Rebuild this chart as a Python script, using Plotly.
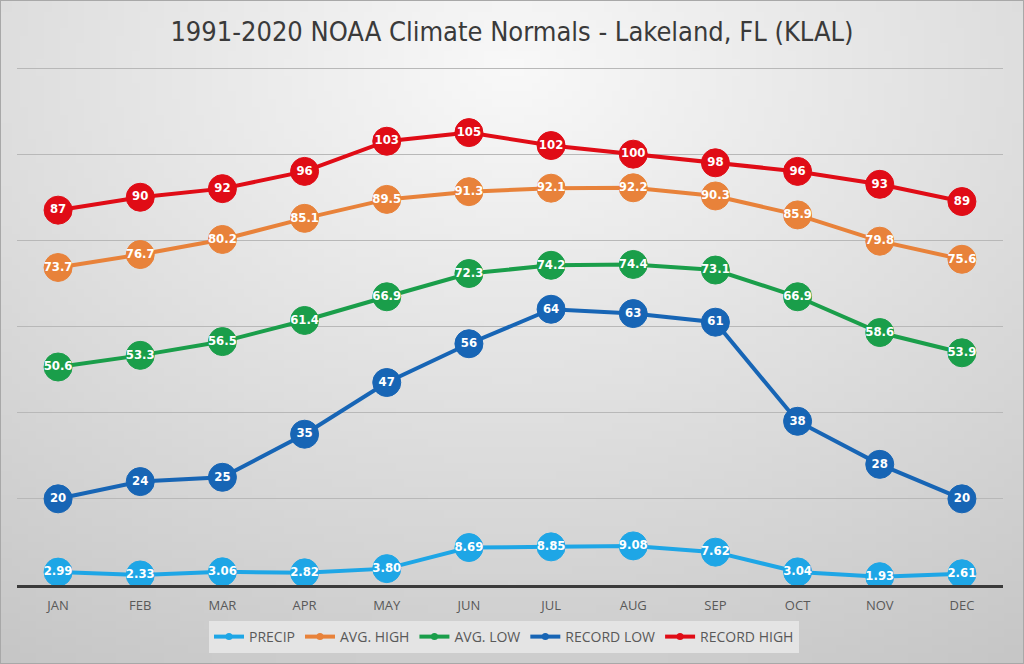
import base64
import struct
import zlib
import math
import plotly.graph_objects as go

months = ["JAN", "FEB", "MAR", "APR", "MAY", "JUN", "JUL", "AUG", "SEP", "OCT", "NOV", "DEC"]

precip = [2.99, 2.33, 3.06, 2.82, 3.80, 8.69, 8.85, 9.08, 7.62, 3.04, 1.93, 2.61]
avg_high = [73.7, 76.7, 80.2, 85.1, 89.5, 91.3, 92.1, 92.2, 90.3, 85.9, 79.8, 75.6]
avg_low = [50.6, 53.3, 56.5, 61.4, 66.9, 72.3, 74.2, 74.4, 73.1, 66.9, 58.6, 53.9]
record_low = [20, 24, 25, 35, 47, 56, 64, 63, 61, 38, 28, 20]
record_high = [87, 90, 92, 96, 103, 105, 102, 100, 98, 96, 93, 89]

series = [
    ("PRECIP", precip, "#1ea6e6", "%{y:.2f}"),
    ("AVG. HIGH", avg_high, "#e8823a", "%{y:.1f}"),
    ("AVG. LOW", avg_low, "#1a9e4a", "%{y:.1f}"),
    ("RECORD LOW", record_low, "#1765b5", "%{y:.0f}"),
    ("RECORD HIGH", record_high, "#e00c16", "%{y:.0f}"),
]

W, H = 1024, 664
PX_PER_UNIT = (585 - 68) / 120.0
Y_MAX = 121.0


def gradient_png(w, h):
    rows = []
    for j in range(h):
        v = j / (h - 1)
        row = bytearray([0])
        for i in range(w):
            u = i / (w - 1)
            d = math.sqrt(((u - 0.5) / 0.9) ** 2 + ((v - 0.1) / 1.0) ** 2)
            c = int(max(190, min(250, 249 - 48 * d)))
            row += bytes([c, c, c])
        rows.append(bytes(row))
    raw = b"".join(rows)

    def chunk(tag, data):
        c = struct.pack(">I", len(data)) + tag + data
        return c + struct.pack(">I", zlib.crc32(tag + data) & 0xFFFFFFFF)

    png = b"\x89PNG\r\n\x1a\n"
    png += chunk(b"IHDR", struct.pack(">IIBBBBB", w, h, 8, 2, 0, 0, 0))
    png += chunk(b"IDAT", zlib.compress(raw, 9))
    png += chunk(b"IEND", b"")
    return "data:image/png;base64," + base64.b64encode(png).decode()


fig = go.Figure()

for name, vals, color, fmt in series:
    fig.add_trace(go.Scatter(
        x=months, y=vals, name=name, mode="lines+markers+text",
        line=dict(color=color, width=4),
        marker=dict(size=28, color=color, line=dict(width=1, color=color)),
        texttemplate=fmt, textposition="middle center",
        textfont=dict(family="DejaVu Sans Condensed", size=13, color="white", weight="bold"),
        showlegend=False, hoverinfo="x+y+name",
    ))

for name, vals, color, fmt in series:
    fig.add_trace(go.Scatter(
        x=[months[0]], y=[None], name=name, mode="lines+markers",
        line=dict(color=color, width=4), marker=dict(size=7, color=color),
        showlegend=True, hoverinfo="skip",
    ))

top_px = 585 - Y_MAX * PX_PER_UNIT

fig.update_layout(
    width=W, height=H,
    margin=dict(l=0, r=0, t=0, b=0),
    paper_bgcolor="#d8d8d8",
    plot_bgcolor="rgba(0,0,0,0)",
    title=dict(
        text="1991-2020 NOAA Climate Normals - Lakeland, FL (KLAL)",
        x=0.5, xanchor="center", y=1 - 32 / H, yanchor="middle", yref="container",
        font=dict(family="DejaVu Sans Condensed", size=27, color="#3a3a3a"),
    ),
    xaxis=dict(
        domain=[17 / W, 1003 / W], range=[-0.5, 11.5], type="category",
        showgrid=False, showline=True, linecolor="#3a3a3a", linewidth=3,
        ticks="", tickfont=dict(family="Open Sans", size=13, color="#595959"),
        ticklabelstandoff=6, zeroline=False, fixedrange=True,
    ),
    yaxis=dict(
        domain=[1 - 585 / H, 1 - top_px / H], range=[0, Y_MAX], dtick=20,
        showgrid=True, gridcolor="#b8b8b8", gridwidth=1,
        showticklabels=False, zeroline=False, showline=False, fixedrange=True,
    ),
    legend=dict(
        orientation="h", x=504 / W, xanchor="center", y=1 - 637 / H, yanchor="middle",
        bgcolor="#e4e4e4", font=dict(family="Open Sans", size=14, color="#595959"),
        itemwidth=30,
    ),
    images=[dict(
        source=gradient_png(128, 84), xref="paper", yref="paper",
        x=0, y=1, sizex=1, sizey=1, xanchor="left", yanchor="top",
        sizing="stretch", layer="below",
    )],
    shapes=[dict(
        type="rect", xref="paper", yref="paper", x0=0, y0=0, x1=1, y1=1,
        line=dict(color="#a8a8a8", width=2), fillcolor="rgba(0,0,0,0)",
    )],
)

fig.write_html(
    "out.html",
    config={"displayModeBar": False},
    post_script="document.body.style.margin='0';document.body.style.overflow='hidden';",
)
